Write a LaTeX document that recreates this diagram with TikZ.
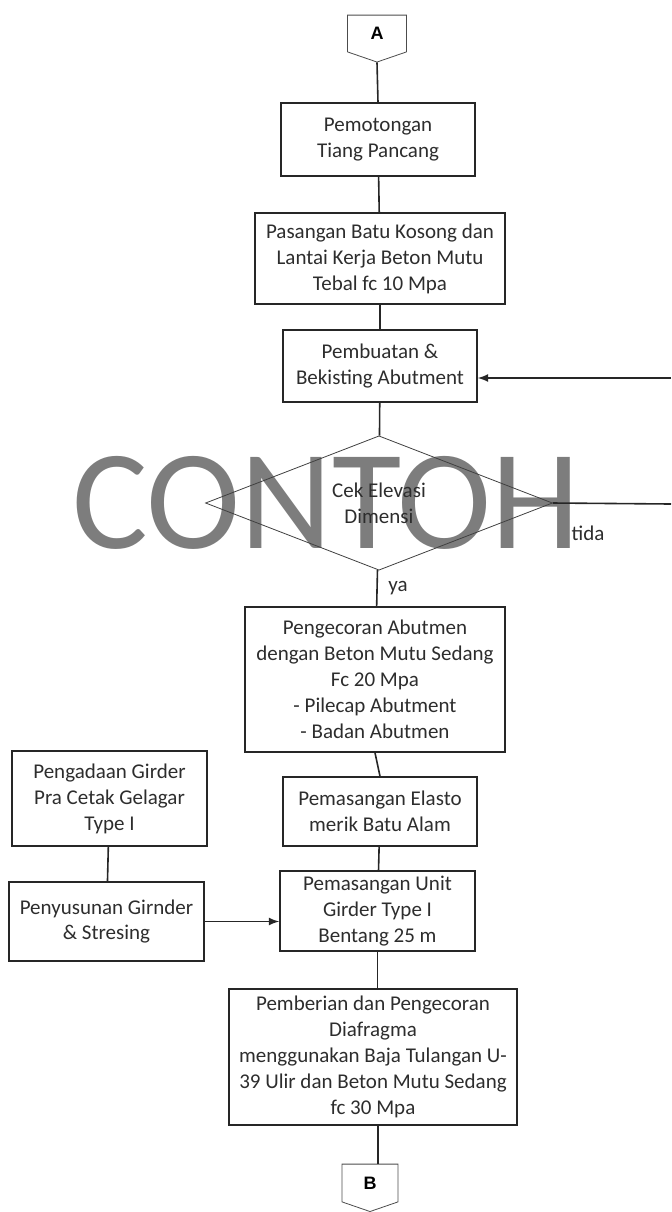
\documentclass[tikz,border=0pt]{standalone}
\usepackage{fontspec}
\setmainfont{Carlito}
\newfontfamily\konfont{Liberation Sans}
\usetikzlibrary{shapes,arrows}

\definecolor{ink}{RGB}{45,45,45}
\definecolor{watermark}{RGB}{125,125,125}

\tikzset{
	langkah/.style={rectangle, draw=black!85, line width=0.8pt, align=center, text=ink,
		font=\fontsize{10.5}{13}\selectfont, inner sep=1pt},
	cek/.style={diamond, draw=black!75, thin, align=center, text=ink,
		font=\fontsize{10.5}{13}\selectfont, inner sep=0pt},
	konektor/.style={signal, signal to=south, signal from=nowhere, draw=black!70, thin,
		signal pointer angle=142, inner sep=0pt, font=\konfont\bfseries\fontsize{9}{10}\selectfont},
	garis/.style={draw=black!85, line width=0.8pt},
}

\begin{document}
\begin{tikzpicture}[x=0.5pt, y=-0.5pt]
		\useasboundingbox (0,0) rectangle (671,1212);
		\node[text=watermark, font=\fontsize{71}{71}\selectfont, inner sep=0pt, anchor=base] (contoh) at (326,548) {CONTOH};

		\node[konektor, minimum width=29.5pt, minimum height=19.5pt] (konA) at (377,33.5) {A};
		\node[langkah, minimum width=97pt, minimum height=36.5pt] (pemotongan) at (378,139.5) {Pemotongan\\Tiang Pancang};
		\node[langkah, minimum width=125pt, minimum height=45.5pt] (pasangan) at (380,258.5) {Pasangan Batu Kosong dan\\Lantai Kerja Beton Mutu\\Tebal fc 10 Mpa};
		\node[langkah, minimum width=97pt, minimum height=36pt] (pembuatan) at (380,366) {Pembuatan \&\\Bekisting Abutment};
		\node[cek, minimum width=173.5pt, minimum height=60pt] (cekelevasi) at (379,503) {Cek Elevasi\\Dimensi};
		\node[langkah, minimum width=130pt, minimum height=72.5pt] (pengecoran) at (375,679.5) {Pengecoran Abutmen\\dengan Beton Mutu Sedang\\Fc 20 Mpa\\- Pilecap Abutment\\- Badan Abutmen};
		\node[langkah, minimum width=97pt, minimum height=34.5pt] (elastomer) at (380,811.5) {Pemasangan Elasto\\merik Batu Alam};
		\node[langkah, minimum width=97.5pt, minimum height=40pt] (unitgirder) at (377.5,911) {Pemasangan Unit\\Girder Type I\\Bentang 25 m};
		\node[langkah, minimum width=97.5pt, minimum height=47.5pt] (pengadaan) at (109.5,798.5) {Pengadaan Girder\\Pra Cetak Gelagar\\Type I};
		\node[langkah, minimum width=97.5pt, minimum height=39.5pt] (penyusunan) at (106.5,921.5) {Penyusunan Girnder\\\& Stresing};
		\node[langkah, minimum width=144pt, minimum height=68pt] (diafragma) at (373,1057) {Pemberian dan Pengecoran\\Diafragma\\menggunakan Baja Tulangan U-\\39 Ulir dan Beton Mutu Sedang\\fc 30 Mpa};
		\node[konektor, minimum width=28pt, minimum height=20pt] (konB) at (370,1183) {B};

		\node[text=ink, font=\fontsize{10.5}{13}\selectfont] (ya) at (398,588) {ya};
		\node[text=ink, font=\fontsize{10.5}{13}\selectfont] (tida) at (588,533) {tida};

		\coordinate (balik) at (671,378);
		\coordinate (ulang) at (671,504);
		\coordinate (turun) at ([xshift=2.5pt]diafragma.south);

		\draw[garis] (konA.south) -- (pemotongan.north);
		\draw[garis] (pemotongan) -- (pasangan);
		\draw[garis] (pasangan) -- (pembuatan);
		\draw[garis] (pembuatan) -- (cekelevasi);
		\draw[garis] (cekelevasi) -- (pengecoran);
		\draw[garis] (pengecoran.south) -- (elastomer.north);
		\draw[garis] (elastomer) -- (unitgirder);
		\draw[garis] (unitgirder.south) -- (unitgirder.south |- diafragma.north);
		\draw[garis] (turun) -- (turun |- konB.north);
		\draw[garis] (pengadaan) -- (penyusunan);
		\draw[garis, -latex] (penyusunan.east) -- (penyusunan.east -| unitgirder.west);
		\draw[garis] (cekelevasi.east) -- (ulang);
		\draw[garis, -latex] (balik) -- (balik -| pembuatan.east);

	\end{tikzpicture}
\end{document}
